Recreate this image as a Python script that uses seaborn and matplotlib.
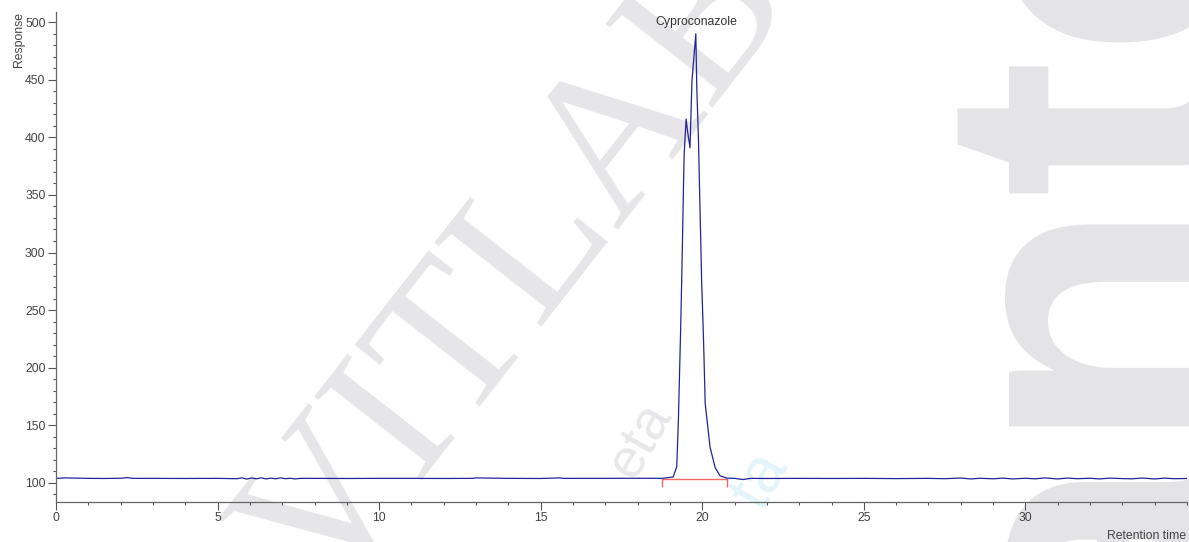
import matplotlib
matplotlib.use("Agg")
import matplotlib.pyplot as plt
from matplotlib.ticker import MultipleLocator
import seaborn as sns
import pandas as pd

# Chromatogram trace (retention time in minutes, detector response)
time_min = [
    0.0, 0.3, 1.0, 1.5, 2.0, 2.2, 2.4, 3.0, 4.0, 5.0,
    5.6, 5.75, 5.9, 6.05, 6.2, 6.35, 6.5, 6.65, 6.8, 6.95, 7.1, 7.25, 7.4, 7.55,
    8.0, 9.0, 10.0, 11.0, 12.0, 12.9, 13.0, 14.0, 15.0, 15.6, 15.7, 16.0, 17.0, 18.0, 18.76,
    19.10, 19.21, 19.26, 19.33, 19.37, 19.42, 19.44, 19.50, 19.54, 19.62, 19.68,
    19.80, 19.83, 19.88, 19.91, 19.95, 19.98, 20.03, 20.05, 20.09, 20.24, 20.40, 20.55, 20.76,
    21.0, 21.26, 21.5, 22.0, 23.0, 24.0, 25.0, 26.0, 27.0, 27.5, 28.0, 28.3, 28.6,
    29.0, 29.3, 29.6, 30.0, 30.3, 30.6, 31.0, 31.3, 31.6, 32.0, 32.3, 32.6, 33.0,
    33.3, 33.6, 34.0, 34.3, 34.6, 35.0,
]
response = [
    103.8, 104.2, 103.8, 103.7, 103.9, 104.4, 103.8, 103.8, 103.7, 103.8,
    103.5, 104.3, 103.2, 104.1, 103.4, 104.3, 103.3, 104.0, 103.4, 104.2, 103.5, 103.9, 103.3, 103.8,
    103.8, 103.7, 103.8, 103.8, 103.7, 103.8, 104.2, 103.8, 103.7, 104.2, 103.8, 103.8, 103.8, 103.9, 103.8,
    105.0, 114.0, 154.0, 233.0, 285.0, 360.0, 386.0, 416.0, 406.0, 391.0, 449.0,
    490.0, 443.0, 400.0, 362.0, 313.0, 275.0, 232.0, 212.0, 169.0, 131.0, 113.0, 106.0, 104.0,
    103.8, 102.8, 103.8, 103.7, 103.8, 103.7, 103.8, 103.6, 103.8, 103.5, 104.1, 103.3, 103.9,
    103.4, 104.0, 103.3, 103.9, 103.4, 104.2, 103.3, 104.1, 103.5, 103.9, 103.3, 104.0, 103.6,
    103.4, 104.1, 103.3, 104.0, 103.5, 103.7,
]

# Integrated peak
peak_name = "Cyproconazole"
peak_apex_time = 19.80
peak_apex_response = 490.0
integration_start = 18.76
integration_end = 20.78
integration_level = 103.5
integration_tick_low = 96.7

# Axis settings
x_major_ticks = [0, 5, 10, 15, 20, 25, 30]
y_major_ticks = [100, 150, 200, 250, 300, 350, 400, 450, 500]

sns.set_style("white")
plt.rcParams["font.family"] = ["Liberation Sans", "DejaVu Sans"]

W, H = 1189, 542
fig = plt.figure(figsize=(W / 100, H / 100), dpi=100)
fig.patch.set_facecolor("white")

# Faint document watermark behind the plot (pixel coordinates, y downwards)
wm = fig.add_axes([0, 0, 1, 1], zorder=0)
wm.set_axis_off()
wm.set_xlim(0, W)
wm.set_ylim(H, 0)
wm.text(520, 270, "VITLAB", rotation=52, fontsize=150, family="Liberation Serif",
        color="#e6e6e8", ha="center", va="center")
wm.text(1220, 674, "ante", rotation=90, rotation_mode="anchor", fontsize=302,
        family="Liberation Sans", fontweight="bold", color="#e4e4e6",
        ha="left", va="baseline")
wm.text(640, 440, "eta", rotation=60, fontsize=40, family="Liberation Sans",
        color="#e8e8ea", ha="center", va="center")
wm.text(760, 480, "ta", rotation=60, fontsize=46, family="Liberation Sans",
        color="#e3f5fb", ha="center", va="center")

left = 56 / W
bottom = (H - 501.5) / H
ax = fig.add_axes([left, bottom, (1187 - 56) / W, (501.5 - 11.7) / H], zorder=1)
ax.patch.set_alpha(0)

df = pd.DataFrame({"time": time_min, "response": response})
sns.lineplot(data=df, x="time", y="response", ax=ax, sort=False, estimator=None,
             color="#23239a", linewidth=0.9)

# Integration baseline with start/end markers
ax.plot([integration_start, integration_end], [integration_level, integration_level],
        color="#f06a6a", linewidth=1.0, zorder=1)
ax.vlines([integration_start, integration_end], integration_tick_low, integration_level,
          color="#f06a6a", linewidth=1.0, zorder=1)

ax.text(peak_apex_time, peak_apex_response + 10.5, peak_name, ha="center", va="center",
        fontsize=8.8, color="#333333")

ax.set_xlim(0, 35.0)
ax.set_ylim(83.7, 509.2)
ax.set_xticks(x_major_ticks)
ax.set_yticks(y_major_ticks)
ax.xaxis.set_minor_locator(MultipleLocator(1))
ax.yaxis.set_minor_locator(MultipleLocator(10))
ax.tick_params(axis="both", which="major", length=5.5, width=0.8, color="#555555",
               labelsize=8.8, labelcolor="#444444", direction="out", pad=2)
ax.tick_params(axis="both", which="minor", length=2.5, width=0.8, color="#555555",
               direction="out")
ax.tick_params(axis="x", which="both", bottom=True)
ax.tick_params(axis="y", which="both", left=True)
for side in ["top", "right"]:
    ax.spines[side].set_visible(False)
for side in ["left", "bottom"]:
    ax.spines[side].set_color("#666666")
    ax.spines[side].set_linewidth(0.9)
ax.set_xlabel("")
ax.set_ylabel("")

fig.text(19 / W, 1 - 12 / H, "Response", rotation=90, ha="center", va="top",
         fontsize=8.8, color="#444444")
fig.text(1186 / W, 1 - 535.7 / H, "Retention time", ha="right", va="center",
         fontsize=8.8, color="#444444")

fig.savefig("out.png", dpi=100, facecolor="white")
